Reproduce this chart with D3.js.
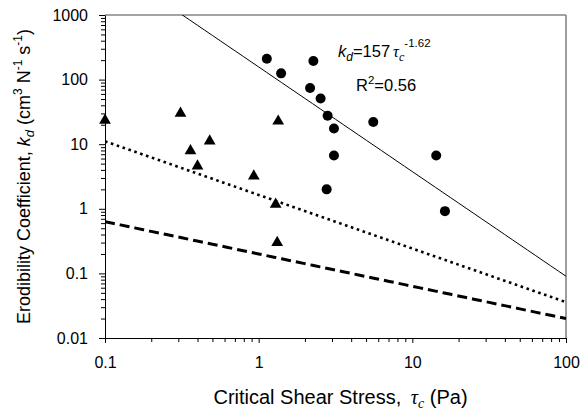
<!DOCTYPE html>
<html>
<head>
<meta charset="utf-8">
<script src="https://cdn.jsdelivr.net/npm/d3@7"></script>
<style>
  body { margin: 0; background: #fff; }
  text { font-family: "Liberation Sans", Arial, sans-serif; fill: #000; }
  .tau { font-family: "Liberation Serif", "Times New Roman", serif; font-style: italic; }
</style>
</head>
<body>
<svg id="chart" width="580" height="411"></svg>
<script>
// measured data, circles (group 1)
var circleTau = [1.13, 1.40, 2.27, 2.16, 2.53, 2.81, 3.09, 5.57, 3.09, 14.3, 2.77, 16.3];
var circleKd  = [210, 125, 194, 74, 51, 27.5, 17.5, 22, 6.7, 6.7, 2.0, 0.92];

// triangles (group 2)
var triTau = [0.1, 0.31, 0.36, 0.40, 0.48, 0.93, 1.34, 1.29, 1.32];
var triKd  = [23.5, 30, 7.9, 4.6, 11.2, 3.2, 22.7, 1.17, 0.30];

// power law fits kd = a * tau^b
var solidFit  = [157, -1.62];
var dottedFit = [1.64, -0.83];
var dashedFit = [0.2, -0.5];

var xTicks = [0.1, 1, 10, 100];
var yTicks = [0.01, 0.1, 1, 10, 100, 1000];

var svg = d3.select("#chart");
var margin = { left: 105, top: 15, right: 14, bottom: 73 };
var width = +svg.attr("width") - margin.left - margin.right;
var height = +svg.attr("height") - margin.top - margin.bottom;

var x = d3.scaleLog().domain([0.1, 100]).range([0, width]);
var y = d3.scaleLog().domain([0.01, 1000]).range([height, 0]);

var g = svg.append("g")
    .attr("transform", "translate(" + margin.left + "," + margin.top + ")");

// clip so fit lines stop at the frame
svg.append("defs").append("clipPath").attr("id", "clip")
    .append("rect").attr("width", width).attr("height", height);

// minor tick positions
function minors(domain) {
  var out = [];
  for (var e = Math.log10(domain[0]); e < Math.log10(domain[1]); e++) {
    for (var m = 2; m < 10; m++) out.push(m * Math.pow(10, e));
  }
  return out;
}

// frame (top and right, grey)
g.append("line").attr("x1", 0).attr("x2", width).attr("y1", 0).attr("y2", 0)
    .attr("stroke", "#858585").attr("stroke-width", 1.6);
g.append("line").attr("x1", width).attr("x2", width).attr("y1", 0).attr("y2", height)
    .attr("stroke", "#858585").attr("stroke-width", 1.6);

// x axis
var xAxis = g.append("g").attr("transform", "translate(0," + height + ")");
xAxis.append("g")
    .call(d3.axisBottom(x).tickValues(minors(x.domain())).tickSize(4).tickFormat(""))
    .call(function (a) { a.select(".domain").remove(); });
xAxis.append("g")
    .call(d3.axisBottom(x).tickValues(xTicks).tickSize(5).tickSizeOuter(0)
      .tickPadding(14).tickFormat(function (d) { return d; }))
    .call(function (a) {
      a.selectAll("text").attr("font-size", 16).attr("font-family", null);
      a.select(".domain").attr("stroke", "#000");
    });

// y axis
var yAxis = g.append("g");
yAxis.append("g")
    .call(d3.axisLeft(y).tickValues(minors(y.domain())).tickSize(4).tickFormat(""))
    .call(function (a) { a.select(".domain").remove(); });
yAxis.append("g")
    .call(d3.axisLeft(y).tickValues(yTicks).tickSize(6).tickSizeOuter(0)
      .tickPadding(11).tickFormat(function (d) { return d; }))
    .call(function (a) {
      a.selectAll("text").attr("font-size", 16).attr("font-family", null);
    });

// fit lines
function drawFit(fit, style) {
  var pts = d3.range(-1, 2.001, 0.05).map(function (e) { return Math.pow(10, e); });
  var line = d3.line()
      .x(function (d) { return x(d); })
      .y(function (d) { return y(fit[0] * Math.pow(d, fit[1])); });
  return g.append("path")
      .datum(pts)
      .attr("clip-path", "url(#clip)")
      .attr("d", line)
      .attr("fill", "none")
      .attr("stroke", "#000")
      .attr("stroke-width", style.width)
      .attr("stroke-dasharray", style.dash);
}

drawFit(solidFit, { width: 1 });
drawFit(dottedFit, { width: 2.6, dash: "2.6,3.6" });
drawFit(dashedFit, { width: 3, dash: "10,5" });

// points
g.append("g").selectAll("circle")
    .data(circleTau)
    .enter().append("circle")
    .attr("cx", function (d) { return x(d); })
    .attr("cy", function (d, i) { return y(circleKd[i]); })
    .attr("r", 5)
    .attr("fill", "#000");

var tri = d3.symbol().type(d3.symbolTriangle).size(60);
g.append("g").selectAll("path")
    .data(triTau)
    .enter().append("path")
    .attr("d", tri)
    .attr("transform", function (d, i) {
      return "translate(" + x(d) + "," + y(triKd[i]) + ")";
    })
    .attr("fill", "#000");

// annotation
var eq = g.append("text").attr("x", 233).attr("y", 42).attr("font-size", 16.5);
eq.append("tspan").attr("font-style", "italic").text("k");
eq.append("tspan").attr("font-style", "italic").attr("font-size", 12).attr("dy", 4).text("d");
eq.append("tspan").attr("dy", -4).text("=157");
eq.append("tspan").attr("class", "tau").attr("dx", 3).text("τ");
eq.append("tspan").attr("class", "tau").attr("font-size", 12).attr("dy", 4).text("c");
eq.append("tspan").attr("font-size", 11.5).attr("dy", -14).text("-1.62");

var r2 = g.append("text").attr("x", 251).attr("y", 76).attr("font-size", 16.5);
r2.append("tspan").text("R");
r2.append("tspan").attr("font-size", 11.5).attr("dy", -7).text("2");
r2.append("tspan").attr("dy", 7).text("=0.56");

// axis titles
var xt = svg.append("text")
    .attr("x", margin.left + width / 2 + 5).attr("y", 404)
    .attr("text-anchor", "middle").attr("font-size", 20);
xt.append("tspan").text("Critical Shear Stress, ");
xt.append("tspan").attr("class", "tau").attr("dx", 4).text("τ");
xt.append("tspan").attr("class", "tau").attr("font-size", 14).attr("dy", 4).text("c");
xt.append("tspan").attr("dy", -4).text(" (Pa)");

var yt = svg.append("text")
    .attr("transform", "translate(30," + (margin.top + height / 2) + ") rotate(-90)")
    .attr("text-anchor", "middle").attr("font-size", 18);
yt.append("tspan").text("Erodibility Coefficient, ");
yt.append("tspan").attr("font-style", "italic").text("k");
yt.append("tspan").attr("font-style", "italic").attr("font-size", 13).attr("dy", 4).text("d");
yt.append("tspan").attr("dy", -4).text(" (cm");
yt.append("tspan").attr("font-size", 12).attr("dy", -8).text("3");
yt.append("tspan").attr("dy", 8).text(" N");
yt.append("tspan").attr("font-size", 12).attr("dy", -8).text("-1");
yt.append("tspan").attr("dy", 8).text(" s");
yt.append("tspan").attr("font-size", 12).attr("dy", -8).text("-1");
yt.append("tspan").attr("dy", 8).text(")");
</script>
</body>
</html>
